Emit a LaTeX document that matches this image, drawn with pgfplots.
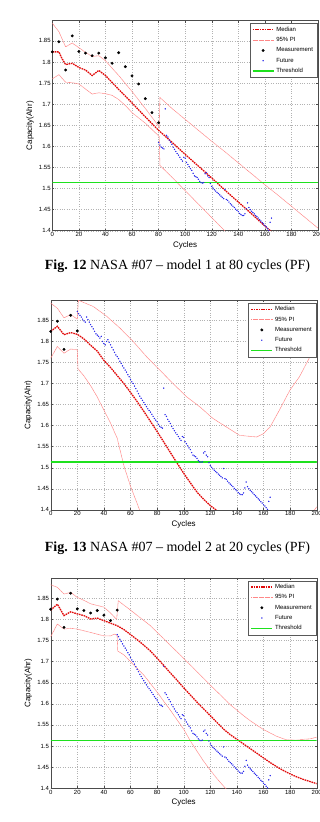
\documentclass[border=0pt]{standalone}
\usepackage{fontspec}
\setmainfont{Liberation Serif}
\newfontfamily\arial{Liberation Sans}
\usepackage{pgfplots}
\usepackage{pgfplotstable}
\pgfplotsset{compat=1.18}

\definecolor{medred}{RGB}{225,10,10}
\definecolor{pipink}{RGB}{255,135,135}
\definecolor{futblue}{RGB}{40,40,235}
\definecolor{thrgreen}{RGB}{30,225,30}

% measurement points
\pgfplotstableread{
x y
0 1.824
5 1.848
10 1.781
15 1.862
20 1.825
25 1.821
30 1.815
35 1.821
40 1.810
45 1.797
50 1.822
55 1.789
60 1.767
65 1.748
70 1.713
75 1.680
80 1.656
}\meas

% future (actual) capacity
\pgfplotstableread{
x y
20 1.871
21 1.866
22 1.862
23 1.858
24 1.853
25 1.849
26 1.846
27 1.858
28 1.852
29 1.846
30 1.840
31 1.835
32 1.830
33 1.824
34 1.818
35 1.815
36 1.812
37 1.808
38 1.812
39 1.800
40 1.795
41 1.792
42 1.800
43 1.804
44 1.798
45 1.792
46 1.786
47 1.780
48 1.774
49 1.768
50 1.764
51 1.759
52 1.753
53 1.748
54 1.742
55 1.737
56 1.732
57 1.727
58 1.721
59 1.716
60 1.710
61 1.704
62 1.700
63 1.694
64 1.688
65 1.682
66 1.676
67 1.670
68 1.665
69 1.660
70 1.655
71 1.650
72 1.645
73 1.640
74 1.636
75 1.632
76 1.627
77 1.622
78 1.617
79 1.613
80 1.609
81 1.603
82 1.598
83 1.596
84 1.594
85 1.689
86 1.626
87 1.622
88 1.615
89 1.610
90 1.605
91 1.598
92 1.593
93 1.588
94 1.583
95 1.579
96 1.574
97 1.569
98 1.565
99 1.574
100 1.572
101 1.562
102 1.557
103 1.552
104 1.547
105 1.543
106 1.536
107 1.530
108 1.528
109 1.526
110 1.522
111 1.517
112 1.514
113 1.513
114 1.514
115 1.535
116 1.538
117 1.530
118 1.526
119 1.512
120 1.505
121 1.501
122 1.497
123 1.494
124 1.491
125 1.488
126 1.485
127 1.482
128 1.479
129 1.476
130 1.498
131 1.474
132 1.472
133 1.468
134 1.464
135 1.461
136 1.458
137 1.455
138 1.451
139 1.448
140 1.445
141 1.441
142 1.438
143 1.436
144 1.436
145 1.440
146 1.452
147 1.466
148 1.455
149 1.450
150 1.446
151 1.443
152 1.440
153 1.436
154 1.433
155 1.430
156 1.426
157 1.423
158 1.419
159 1.416
160 1.412
161 1.409
162 1.405
163 1.401
164 1.420
165 1.430
}\future

% ---- model 1 at 80 cycles
\pgfplotstableread{
x y
0 1.824
5 1.824
7 1.810
10 1.794
15 1.797
20 1.787
25 1.781
30 1.768
35 1.780
40 1.768
50 1.735
60 1.703
70 1.670
80 1.638
90 1.610
100 1.581
110 1.553
120 1.525
130 1.496
140 1.468
150 1.440
160 1.411
166 1.395
}\medA
\pgfplotstableread{
x y
0 1.892
3 1.880
5 1.872
10 1.836
15 1.845
20 1.834
25 1.823
30 1.813
35 1.815
40 1.803
50 1.768
60 1.730
70 1.690
80 1.648
80.5 1.645
81 1.716
90 1.690
100 1.664
110 1.638
120 1.612
130 1.587
140 1.561
150 1.535
160 1.509
170 1.484
180 1.458
190 1.432
200 1.406
}\upA
\pgfplotstableread{
x y
0 1.760
5 1.770
10 1.752
15 1.751
20 1.748
25 1.736
30 1.724
35 1.727
40 1.725
45 1.721
50 1.711
55 1.697
60 1.680
70 1.655
80 1.625
80.5 1.623
81 1.555
90 1.527
100 1.495
110 1.463
120 1.431
130 1.399
}\loA

% ---- model 2 at 20 cycles
\pgfplotstableread{
x y
0 1.824
5 1.836
10 1.816
15 1.821
20 1.817
25 1.806
30 1.791
35 1.777
40 1.755
45 1.738
50 1.719
55 1.700
60 1.679
65 1.657
70 1.634
75 1.610
80 1.586
85 1.561
90 1.536
95 1.511
100 1.487
105 1.464
110 1.442
115 1.425
120 1.410
125 1.398
}\medB
\pgfplotstableread{
x y
0 1.891
5 1.879
10 1.856
15 1.864
20 1.853
20.8 1.898
32 1.883
42 1.860
52 1.832
62 1.800
72 1.764
82 1.732
92 1.700
102 1.669
112 1.645
122 1.617
132 1.597
142 1.577
148 1.575
155 1.573
160 1.581
165 1.597
172 1.637
180 1.685
187 1.716
195 1.764
200 1.800
}\upB
\pgfplotstableread{
x y
0 1.760
5 1.788
10 1.772
15 1.782
20 1.780
20.5 1.735
25 1.718
30 1.695
35 1.668
40 1.637
45 1.606
50 1.570
55 1.505
60 1.456
65 1.415
67 1.398
}\loB
\pgfplotstableread{
x y
197 1.396
199 1.402
200 1.407
}\loBend

% ---- model at 50 cycles
\pgfplotstableread{
x y
0 1.822
5 1.836
10 1.809
15 1.818
20 1.813
25 1.809
30 1.801
35 1.803
40 1.797
45 1.791
50 1.785
55 1.776
60 1.764
65 1.752
70 1.739
75 1.725
80 1.708
85 1.691
90 1.673
95 1.656
100 1.638
105 1.621
110 1.604
115 1.588
120 1.572
125 1.556
130 1.540
135 1.527
140 1.516
145 1.505
150 1.494
155 1.483
160 1.472
165 1.461
170 1.451
175 1.442
180 1.434
185 1.427
190 1.421
195 1.416
200 1.411
}\medC
\pgfplotstableread{
x y
0 1.882
5 1.876
10 1.860
15 1.864
20 1.852
25 1.845
30 1.837
35 1.833
40 1.829
45 1.815
49.6 1.800
50.8 1.844
55 1.834
62 1.817
75 1.785
85 1.754
95 1.723
105 1.692
115 1.660
125 1.629
135 1.598
145 1.572
150 1.560
160 1.539
170 1.523
177 1.515
185 1.514
190 1.516
195 1.517
200 1.521
}\upC
\pgfplotstableread{
x y
0 1.759
5 1.789
10 1.777
15 1.779
20 1.777
30 1.769
40 1.761
45 1.761
48 1.765
50 1.762
50.4 1.725
55 1.716
60 1.700
65 1.684
70 1.668
75 1.648
80 1.628
85 1.606
90 1.585
95 1.562
100 1.540
105 1.512
110 1.488
115 1.464
120 1.443
125 1.423
130 1.405
132 1.398
}\loC

\pgfplotstableread{
x y
0 1.5136
200 1.5136
}\thrline

\pgfplotsset{
  nasa/.style={
    scale only axis, anchor=south west,
    xmin=0, xmax=200, ymin=1.4, ymax=1.898,
    xtick={0,20,40,60,80,100,120,140,160,180,200},
    xticklabels={0,20,40,60,80,100,120,140,160,180,200},
    ytick={1.4,1.45,1.5,1.55,1.6,1.65,1.7,1.75,1.8,1.85},
    yticklabels={1.4,1.45,1.5,1.55,1.6,1.65,1.7,1.75,1.8,1.85},
    grid=major,
    major grid style={dotted, gray!60, line width=0.35pt},
    axis line style={gray!60!black, line width=0.4pt},
    tick style={gray!60!black, line width=0.4pt},
    tick align=inside, major tick length=2pt,
    ticklabel style={font=\arial\fontsize{6}{7}\selectfont, inner sep=1.5pt},
    /pgf/number format/assume math mode=true,
    xlabel={Cycles}, ylabel={Capacity(Ahr)},
    xlabel style={font=\arial\fontsize{8}{9}\selectfont, at={(axis description cs:0.5,-0.068)}, anchor=center},
    ylabel style={font=\arial\fontsize{8}{9}\selectfont, at={(axis description cs:-0.084,0.5)}, anchor=center},
    legend style={at={(axis description cs:0.997,0.988)}, anchor=north east,
      font=\arial\fontsize{6}{7}\selectfont, draw=gray!70!black,
      inner xsep=2pt, inner ysep=1.5pt, row sep=0.6pt, cells={anchor=west}, fill=white},
    legend image code/.code={\draw[mark repeat=2,mark phase=2,#1] plot coordinates {(0pt,0pt) (10.5pt,0pt) (21pt,0pt)};},
    legend cell align=left,
  },
  med/.style={draw=medred, color=medred, line width=1.3pt, dash pattern=on 1.6pt off 0.8pt, no marks},
  pi/.style={draw=pipink, color=pipink, line width=0.55pt, dash pattern=on 0.8pt off 0.4pt, no marks},
  meas/.style={only marks, mark=*, mark size=1.25pt, color=black},
  fut/.style={only marks, mark=*, mark size=0.45pt, color=futblue},
  thr/.style={draw=thrgreen, color=thrgreen, line width=1.4pt, solid, no marks},
}

\begin{document}
\begin{tikzpicture}
\useasboundingbox (0pt,0pt) rectangle (320pt,822pt);

% ---------- Fig 12
\begin{axis}[nasa, at={(52.3pt,591.3pt)}, width=265.7pt, height=210pt]
\addplot[med] table {\medA};
\addlegendentry{Median}
\addplot[pi] table {\upA};
\addlegendentry{95\% PI}
\addplot[pi, forget plot] table {\loA};
\addplot[meas] table {\meas};
\addlegendentry{Measurement}
\addplot[fut, restrict x to domain=80:200] table {\future};
\addlegendentry{Future}
\addplot[thr] table {\thrline};
\addlegendentry{Threshold}
\end{axis}
\node[font=\fontsize{14}{16}\selectfont] at (177.5pt,556.3pt) {\textbf{Fig. 12} NASA \#07 -- model 1 at 80 cycles (PF)};

% ---------- Fig 13
\begin{axis}[nasa, at={(50.7pt,312.2pt)}, width=266pt, height=209.6pt]
\addplot[med] table {\medB};
\addlegendentry{Median}
\addplot[pi] table {\upB};
\addlegendentry{95\% PI}
\addplot[pi, forget plot] table {\loB};
\addplot[pi, forget plot] table {\loBend};
\addplot[meas, restrict x to domain=0:20] table {\meas};
\addlegendentry{Measurement}
\addplot[fut] table {\future};
\addlegendentry{Future}
\addplot[thr] table {\thrline};
\addlegendentry{Threshold}
\addplot[thr, forget plot] table {\thrline};
\end{axis}
\node[font=\fontsize{14}{16}\selectfont] at (177.5pt,274pt) {\textbf{Fig. 13} NASA \#07 -- model 2 at 20 cycles (PF)};

% ---------- third
\begin{axis}[nasa, at={(50.7pt,33.7pt)}, width=266pt, height=210.3pt]
\addplot[med] table {\medC};
\addlegendentry{Median}
\addplot[pi] table {\upC};
\addlegendentry{95\% PI}
\addplot[pi, forget plot] table {\loC};
\addplot[meas, restrict x to domain=0:50] table {\meas};
\addlegendentry{Measurement}
\addplot[fut, restrict x to domain=50:200] table {\future};
\addlegendentry{Future}
\addplot[thr] table {\thrline};
\addlegendentry{Threshold}
\end{axis}
\end{tikzpicture}
\end{document}
